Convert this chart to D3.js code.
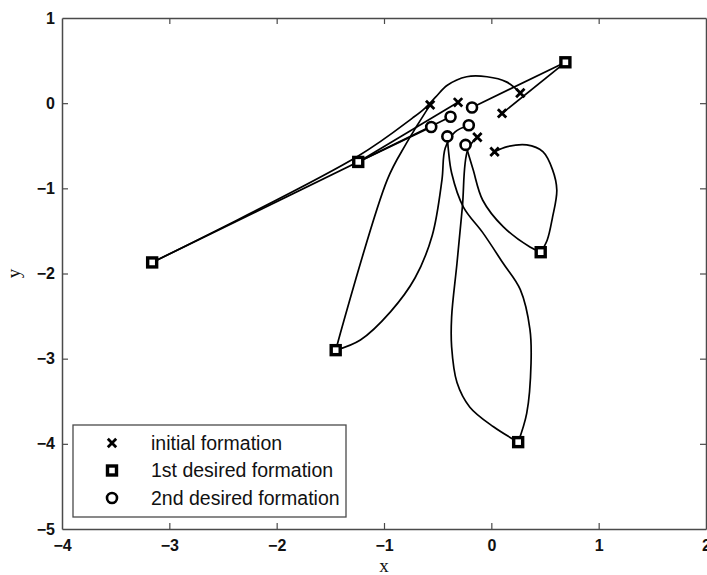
<!DOCTYPE html>
<html>
<head>
<meta charset="utf-8">
<script src="https://cdn.jsdelivr.net/npm/d3@7"></script>
<style>
  html, body { margin: 0; padding: 0; background: #fff; }
  svg { display: block; }
</style>
</head>
<body>
<svg id="chart" width="707" height="575"></svg>
<script>
// Axis ticks
const xTicks = [-4, -3, -2, -1, 0, 1, 2];
const yTicks = [-5, -4, -3, -2, -1, 0, 1];

// Initial formation (x markers)
const initialFormation = [
  [-0.57, -0.02], [-0.31, 0.01], [0.27, 0.12],
  [0.10, -0.12], [-0.13, -0.40], [0.03, -0.57]
];

// 1st desired formation (squares)
const firstFormation = [
  [0.69, 0.48], [-1.24, -0.69], [-3.16, -1.87],
  [-1.45, -2.90], [0.46, -1.75], [0.25, -3.98]
];

// 2nd desired formation (circles)
const secondFormation = [
  [-0.18, -0.05], [-0.38, -0.16], [-0.56, -0.28],
  [-0.21, -0.26], [-0.41, -0.39], [-0.24, -0.49]
];

// Agent trajectories: leg 1 (initial -> 1st formation), leg 2 (1st -> 2nd formation)
const agentLeg1 = [
  [[0.03, -0.57], [0.15, -0.51], [0.33, -0.49], [0.48, -0.57], [0.57, -0.78], [0.61, -1.02], [0.57, -1.34], [0.52, -1.61], [0.46, -1.75]],
  [[-0.13, -0.40], [-0.22, -0.55], [-0.27, -1.22], [-0.32, -1.88], [-0.37, -2.51], [-0.37, -2.86], [-0.32, -3.28], [-0.20, -3.57], [0.02, -3.80], [0.25, -3.98]],
  [[0.10, -0.12], [0.69, 0.48]],
  [[0.27, 0.12], [0.14, 0.25], [-0.04, 0.31], [-0.23, 0.31], [-0.41, 0.21], [-0.52, 0.07], [-0.62, -0.06], [-0.73, -0.17], [-1.24, -0.62], [-3.16, -1.87]],
  [[-0.31, 0.01], [-1.24, -0.69]],
  [[-0.57, -0.02], [-0.69, -0.26], [-0.80, -0.49], [-0.97, -0.90], [-1.45, -2.90]]
];
const agentLeg2 = [
  [[0.46, -1.75], [0.36, -1.69], [0.11, -1.45], [-0.08, -1.14], [-0.17, -0.78], [-0.22, -0.57], [-0.24, -0.49]],
  [[0.25, -3.98], [0.33, -3.64], [0.37, -3.05], [0.36, -2.66], [0.27, -2.19], [0.11, -1.88], [-0.08, -1.52], [-0.26, -1.22], [-0.37, -0.82], [-0.40, -0.55], [-0.41, -0.39]],
  [[0.69, 0.48], [-0.18, -0.05]],
  [[-3.16, -1.87], [-0.38, -0.16]],
  [[-1.24, -0.69], [-0.56, -0.28]],
  [[-1.45, -2.90], [-1.22, -2.78], [-0.94, -2.45], [-0.71, -2.05], [-0.55, -1.55], [-0.46, -0.90], [-0.43, -0.53], [-0.34, -0.34], [-0.21, -0.26]]
];

const legendLabels = ["initial formation", "1st desired formation", "2nd desired formation"];

const svg = d3.select("#chart");
const plotLeft = 62, plotRight = 706, plotTop = 18, plotBottom = 529;

const x = d3.scaleLinear().domain([-4, 2]).range([plotLeft, plotRight]);
const y = d3.scaleLinear().domain([-5, 1]).range([plotBottom, plotTop]);

const axisColor = "#4a4a4a";
const tickFont = "'Liberation Sans', Arial, sans-serif";
const fmt = d => d < 0 ? "\u2212" + Math.abs(d) : String(d);

// Bottom axis with labels, ticks pointing inward
const gx = svg.append("g").attr("transform", `translate(0,${plotBottom})`)
  .call(d3.axisBottom(x).tickValues(xTicks).tickSizeInner(-6).tickSizeOuter(0)
    .tickFormat(fmt).tickPadding(11));
// Left axis
const gy = svg.append("g").attr("transform", `translate(${plotLeft},0)`)
  .call(d3.axisLeft(y).tickValues(yTicks).tickSizeInner(-6).tickSizeOuter(0)
    .tickFormat(fmt).tickPadding(7));
// Top and right axes: ticks only
const gt = svg.append("g").attr("transform", `translate(0,${plotTop})`)
  .call(d3.axisTop(x).tickValues(xTicks).tickSizeInner(-6).tickSizeOuter(0).tickFormat(""));
const gr = svg.append("g").attr("transform", `translate(${plotRight},0)`)
  .call(d3.axisRight(y).tickValues(yTicks).tickSizeInner(-6).tickSizeOuter(0).tickFormat(""));

[gx, gy, gt, gr].forEach(g => {
  g.select(".domain").attr("stroke", axisColor).attr("stroke-width", 1.5);
  g.selectAll(".tick line").attr("stroke", axisColor).attr("stroke-width", 1.2);
  g.selectAll(".tick text").attr("fill", "#111").style("font-family", tickFont)
    .style("font-size", "16px").style("font-weight", "bold");
});
// Drop the end ticks that sit on the frame corners
gx.selectAll(".tick line").filter(d => d === -4 || d === 2).remove();
gt.selectAll(".tick line").filter(d => d === -4 || d === 2).remove();
gy.selectAll(".tick line").filter(d => d === -5 || d === 1).remove();
gr.selectAll(".tick line").filter(d => d === -5 || d === 1).remove();

// Axis titles
svg.append("text").attr("x", x(-1)).attr("y", 572).attr("text-anchor", "middle")
  .style("font-family", "'Liberation Serif', 'Times New Roman', serif").style("font-size", "19px")
  .attr("fill", "#111").text("x");
svg.append("text").attr("transform", `translate(20,${y(-2)}) rotate(-90)`).attr("text-anchor", "middle")
  .style("font-family", "'Liberation Serif', 'Times New Roman', serif").style("font-size", "19px")
  .attr("fill", "#111").text("y");

// Trajectories
const line = d3.line().x(d => x(d[0])).y(d => y(d[1])).curve(d3.curveCatmullRom.alpha(0.5));
const paths = svg.append("g").attr("fill", "none").attr("stroke", "#000").attr("stroke-width", 1.7);
agentLeg1.concat(agentLeg2).forEach(pts => paths.append("path").attr("d", line(pts)));

// Marker drawing helpers
function drawCross(g, cx, cy) {
  const s = 4.2;
  g.append("path").attr("d", `M${cx - s},${cy - s}L${cx + s},${cy + s}M${cx - s},${cy + s}L${cx + s},${cy - s}`)
    .attr("stroke", "#000").attr("stroke-width", 2.8).attr("fill", "none");
}
function drawSquare(g, cx, cy) {
  const s = 9;
  g.append("rect").attr("x", cx - s / 2).attr("y", cy - s / 2).attr("width", s).attr("height", s)
    .attr("fill", "#fff").attr("stroke", "#000").attr("stroke-width", 3.4);
}
function drawCircle(g, cx, cy) {
  g.append("circle").attr("cx", cx).attr("cy", cy).attr("r", 5)
    .attr("fill", "#fff").attr("stroke", "#000").attr("stroke-width", 2.6);
}

const marks = svg.append("g");
initialFormation.forEach(d => drawCross(marks, x(d[0]), y(d[1])));
firstFormation.forEach(d => drawSquare(marks, x(d[0]), y(d[1])));
secondFormation.forEach(d => drawCircle(marks, x(d[0]), y(d[1])));

// Legend
const lg = svg.append("g");
lg.append("rect").attr("x", 73).attr("y", 425).attr("width", 273).attr("height", 92)
  .attr("fill", "#fff").attr("stroke", axisColor).attr("stroke-width", 1.3);
const drawers = [drawCross, drawSquare, drawCircle];
legendLabels.forEach((label, i) => {
  const cy = 443 + i * 27.5;
  drawers[i](lg, 112, cy);
  lg.append("text").attr("x", 151).attr("y", cy + 6.5)
    .style("font-family", tickFont).style("font-size", "19.5px").attr("fill", "#111").text(label);
});
</script>
</body>
</html>
